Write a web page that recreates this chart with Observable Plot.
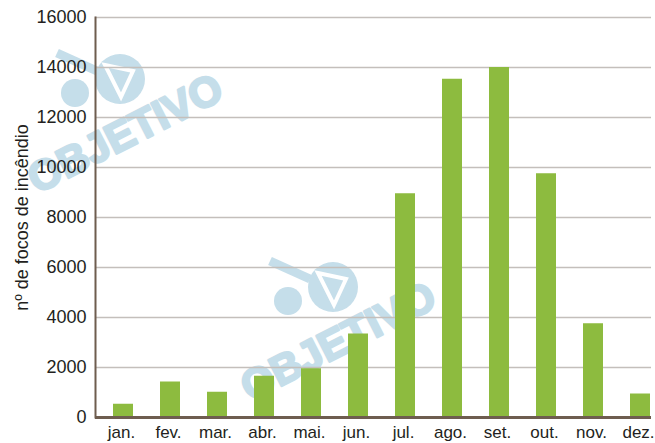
<!DOCTYPE html>
<html>
<head>
<meta charset="utf-8">
<script src="https://cdn.jsdelivr.net/npm/d3@7"></script>
<script src="https://cdn.jsdelivr.net/npm/@observablehq/plot@0.6"></script>
<style>
  html, body { margin: 0; padding: 0; background: #fff; }
  #wrap { position: relative; width: 655px; height: 443px; }
  #wrap svg { position: absolute; left: 0; top: 0; }
</style>
</head>
<body>
<div id="wrap"></div>
<script>
const months = ["jan.", "fev.", "mar.", "abr.", "mai.", "jun.", "jul.", "ago.", "set.", "out.", "nov.", "dez."];
const fires = [530, 1420, 1010, 1650, 1950, 3340, 8950, 13530, 14000, 9750, 3750, 940];
const yTicks = [0, 2000, 4000, 6000, 8000, 10000, 12000, 14000, 16000];
const watermarkText = "OBJETIVO";

const data = months.map((m, i) => ({month: m, value: fires[i]}));
const wrap = document.getElementById("wrap");

// watermark layer (behind the chart)
const wm = d3.create("svg").attr("width", 655).attr("height", 443);
const wmColor = "#b7d6e5";
[[125, 133], [338, 341]].forEach(([cx, cy]) => {
  const g = wm.append("g").attr("fill", wmColor).attr("opacity", 0.8);
  g.append("line").attr("x1", cx - 68).attr("y1", cy - 80).attr("x2", cx - 28).attr("y2", cy - 62)
    .attr("stroke", wmColor).attr("stroke-width", 9);
  g.append("circle").attr("cx", cx - 5).attr("cy", cy - 54).attr("r", 25);
  g.append("path")
    .attr("d", `M${cx - 20},${cy - 68} L${cx + 8},${cy - 62} L${cx - 4},${cy - 36} Z`)
    .attr("fill", "none").attr("stroke", "#fff").attr("stroke-width", 4);
  g.append("circle").attr("cx", cx - 50).attr("cy", cy - 40).attr("r", 14);
  g.append("text").attr("x", cx).attr("y", cy)
    .attr("transform", `rotate(-27 ${cx} ${cy})`)
    .attr("text-anchor", "middle").attr("dominant-baseline", "central")
    .attr("font-family", "'Liberation Sans', Arial, sans-serif").attr("font-weight", "bold")
    .attr("stroke", wmColor).attr("stroke-width", 2.5).attr("stroke-linejoin", "round")
    .attr("font-size", 42).text(watermarkText);
});
wrap.appendChild(wm.node());

const chart = Plot.plot({
  width: 655,
  height: 443,
  marginTop: 17,
  marginBottom: 26,
  marginLeft: 95,
  marginRight: 4,
  style: {fontFamily: "'Liberation Sans', Arial, sans-serif", color: "#231f20", background: "transparent"},
  x: {domain: months, range: [98.5, 663.5], paddingInner: 0.575, paddingOuter: 0.2875, label: null},
  y: {domain: [0, 16000], ticks: yTicks, label: null},
  marks: [
    Plot.gridY(yTicks, {stroke: "#c4bfbb", strokeOpacity: 1, strokeWidth: 1.5}),
    Plot.barY(data, {x: "month", y: "value", fill: "#8dbb3f"}),
    Plot.ruleY([0], {stroke: "#6e5d4f", strokeWidth: 3}),
    Plot.frame({anchor: "left", stroke: "#6e5d4f", strokeWidth: 2}),
    Plot.axisY(yTicks, {tickSize: 0, tickPadding: 9, fontSize: 18, tickFormat: d => String(d),
      label: "nº de focos de incêndio", labelAnchor: "center", labelArrow: "none", labelOffset: 80}),
    Plot.axisX({tickSize: 0, tickPadding: 8, fontSize: 17, dx: -2, label: null})
  ]
});
wrap.appendChild(chart);
</script>
</body>
</html>
